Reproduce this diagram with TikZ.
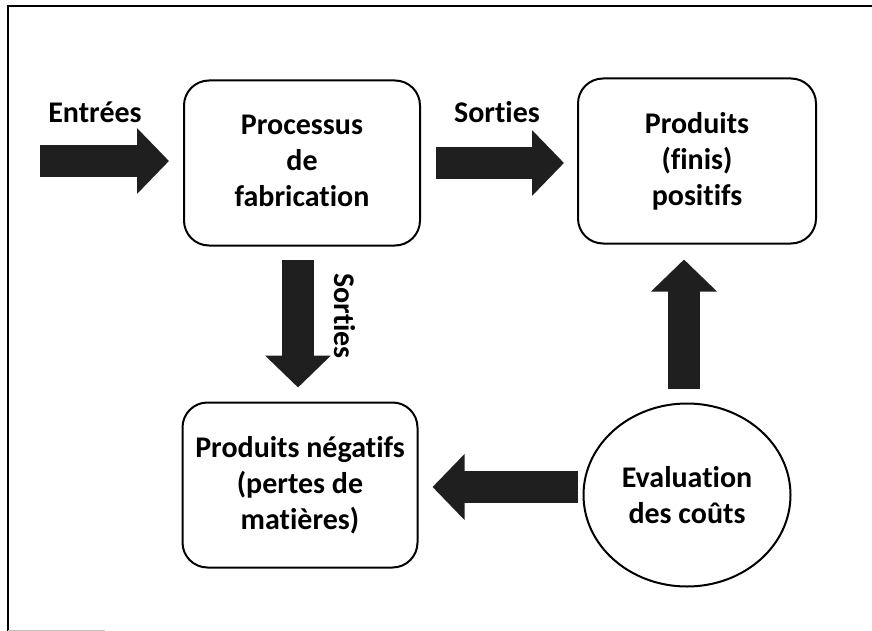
\documentclass[tikz,border=0pt]{standalone}
\usepackage{fontspec}
\setmainfont{Carlito}[Ligatures=NoCommon]
\usetikzlibrary{arrows.meta,shapes.geometric}

\tikzset{
  box/.style={draw, line width=2pt, rounded corners=25pt,
    minimum width=236pt, minimum height=165pt, align=center},
  blockarrow/.style={line width=32pt, black!88,
    -{Triangle[length=32pt,width=64pt]}},
}

\begin{document}
\begin{tikzpicture}[x=1pt, y=-1pt, font=\fontsize{30}{36}\selectfont\bfseries]
  \useasboundingbox (0,0) rectangle (872,631);

  % Frame
  \draw[line width=2pt] (8,631) -- (8,6) -- (872,6);
  \draw[gray!50, line width=1pt] (8,630) -- (105,630);

  % Boxes
  \node[box] (proc) at (302,163) {Processus\\de\\fabrication\vphantom{p}};
  \node[box, minimum width=238pt] (pos) at (697,161) {Produits\\(finis)\\positifs};
  \node[box, minimum width=235pt] (neg) at (300,485) {Produits négatifs\\(pertes de\\matières)};
  \node[draw, ellipse, line width=2pt, minimum width=207pt, minimum height=183pt,
    align=center] (eval) at (687,495) {Evaluation\\des coûts};

  % Labels
  \node (inlbl) at (95,112) {Entrées};
  \node (outlbl) at (497,112) {Sorties};
  \node[rotate=-90] (downlbl) at (345,316) {Sorties};

  % Arrows
  \coordinate (in) at (40,161);
  \draw[blockarrow, shorten >=14pt] (in) -- (in -| proc.west);
  \draw[blockarrow, shorten <=15pt, shorten >=13pt]
    (proc.east) -- (proc.east -| pos.west);
  \draw[blockarrow, shorten <=13pt, shorten >=14pt]
    ([xshift=-4pt]proc.south) -- ([xshift=-4pt]proc.south |- neg.north);
  \draw[blockarrow, shorten <=14pt, shorten >=15pt]
    ([xshift=-3pt]eval.north) -- ([xshift=-3pt]eval.north |- pos.south);
  \draw[blockarrow, shorten <=5pt, shorten >=14pt]
    ([yshift=8pt]eval.west) -- ([yshift=8pt]eval.west -| neg.east);
\end{tikzpicture}
\end{document}
